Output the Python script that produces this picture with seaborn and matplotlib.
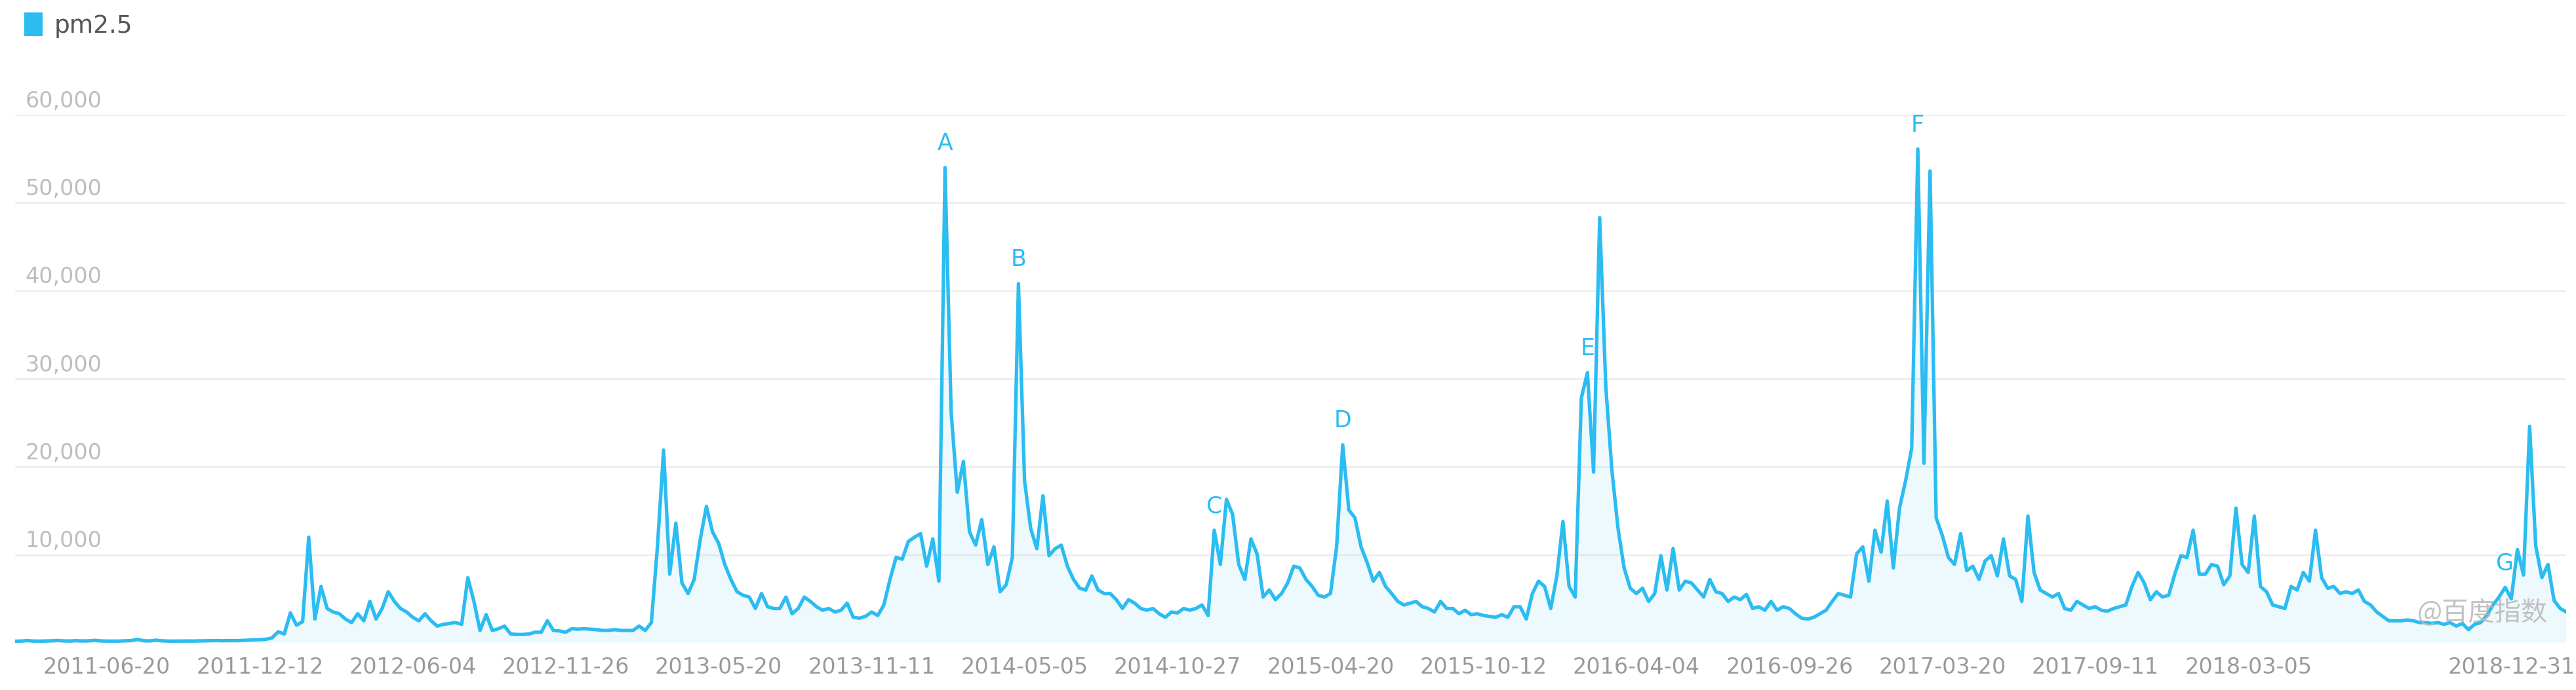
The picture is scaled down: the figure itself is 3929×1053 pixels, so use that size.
import pandas as pd
import matplotlib.pyplot as plt
from matplotlib.patches import Patch
import seaborn as sns

sns.set_style("white")
plt.rcParams['font.family'] = ['DejaVu Sans', 'Noto Sans CJK SC']

# weekly baidu index values for "pm2.5"
start_week = '2011-03-07'
pm25 = [
    180, 200, 260, 200, 190, 210, 230, 270, 220, 200,
    250, 210, 230, 280, 220, 200, 190, 200, 230, 260,
    380, 240, 220, 300, 230, 200, 190, 200, 210, 200,
    220, 230, 250, 260, 240, 260, 250, 270, 300, 330,
    350, 400, 550, 1250, 1000, 3400, 2000, 2400, 12000, 2700,
    6400, 3900, 3500, 3300, 2700, 2300, 3300, 2500, 4700, 2700,
    3900, 5800, 4700, 3900, 3500, 2900, 2500, 3300, 2500, 1900,
    2100, 2200, 2300, 2100, 7400, 4700, 1400, 3200, 1400, 1600,
    1900, 1000, 950, 950, 1000, 1200, 1200, 2500, 1400, 1350,
    1200, 1600, 1550, 1600, 1550, 1500, 1400, 1400, 1500, 1400,
    1400, 1400, 1900, 1400, 2300, 11000, 21900, 7800, 13600, 6800,
    5600, 7200, 11800, 15500, 12600, 11300, 8900, 7200, 5800, 5400,
    5200, 3900, 5600, 4100, 3900, 3900, 5200, 3300, 3900, 5200,
    4700, 4100, 3700, 3900, 3500, 3700, 4500, 2900, 2800, 3000,
    3500, 3100, 4300, 7200, 9700, 9500, 11500, 12000, 12400, 8700,
    11800, 7000, 54000, 26200, 17100, 20600, 12600, 11100, 14000, 8900,
    10900, 5800, 6600, 9700, 40800, 18400, 13000, 10700, 16700, 9900,
    10700, 11100, 8700, 7200, 6200, 6000, 7600, 6000, 5600, 5600,
    4900, 3900, 4900, 4500, 3900, 3700, 3900, 3300, 2900, 3500,
    3400, 3900, 3700, 3900, 4300, 3100, 12800, 8900, 16300, 14600,
    8900, 7200, 11800, 10100, 5200, 6000, 4900, 5600, 6800, 8700,
    8500, 7200, 6400, 5400, 5200, 5600, 10900, 22500, 15100, 14200,
    10900, 9100, 7000, 8000, 6400, 5600, 4700, 4300, 4500, 4700,
    4100, 3900, 3500, 4700, 3900, 3900, 3300, 3700, 3200, 3300,
    3100, 3000, 2900, 3200, 2900, 4100, 4100, 2700, 5600, 7000,
    6400, 3900, 7600, 13800, 6400, 5200, 27800, 30700, 19400, 48300,
    29100, 19600, 13000, 8500, 6200, 5600, 6200, 4700, 5600, 9900,
    6000, 10700, 6000, 7000, 6800, 6000, 5200, 7200, 5800, 5600,
    4700, 5200, 4900, 5500, 3900, 4100, 3700, 4700, 3700, 4100,
    3900, 3300, 2800, 2700, 2900, 3300, 3700, 4700, 5600, 5400,
    5200, 10100, 10900, 7000, 12800, 10300, 16100, 8500, 15300, 18400,
    22100, 56100, 20400, 53600, 14200, 12200, 9700, 8900, 12400, 8200,
    8700, 7200, 9300, 9900, 7600, 11800, 7600, 7200, 4700, 14400,
    8000, 6000, 5600, 5200, 5600, 3900, 3700, 4700, 4300, 3900,
    4100, 3700, 3600, 3900, 4100, 4300, 6400, 8000, 6800, 4900,
    5800, 5200, 5400, 7800, 9900, 9700, 12800, 7800, 7800, 8900,
    8700, 6600, 7600, 15300, 8900, 8000, 14400, 6400, 5800, 4300,
    4100, 3900, 6400, 6000, 8000, 7000, 12800, 7400, 6200, 6400,
    5600, 5800, 5600, 6000, 4700, 4300, 3500, 3000, 2500, 2500,
    2500, 2600, 2500, 2300, 2300, 2200, 2300, 2100, 2300, 1900,
    2200, 1500, 2100, 2300, 3100, 4300, 5200, 6300, 5000, 10600,
    7700, 24600, 11000, 7400, 8900, 4800, 3900, 3500,
]

tick_dates = ['2011-06-20', '2011-12-12', '2012-06-04', '2012-11-26', '2013-05-20',
              '2013-11-11', '2014-05-05', '2014-10-27', '2015-04-20', '2015-10-12',
              '2016-04-04', '2016-09-26', '2017-03-20', '2017-09-11', '2018-03-05',
              '2018-12-31']
y_ticks = [10000, 20000, 30000, 40000, 50000, 60000]

# event markers A..G: week index of the point they sit on
event_labels = ['A', 'B', 'C', 'D', 'E', 'F', 'G']
event_idx = [152, 164, 196, 217, 257, 311, 407]

blue = '#2BBCF2'

df = pd.DataFrame({'week': pd.date_range(start_week, periods=len(pm25), freq='7D'),
                   'pm2.5': pm25})

fig = plt.figure(figsize=(39.29, 10.53), dpi=100)
ax = fig.add_axes([0.00585, 0.0684, 0.9904, 0.7654])

sns.lineplot(data=df, x='week', y='pm2.5', color=blue, linewidth=3.8, ax=ax)
ax.lines[0].set_solid_joinstyle('round')
ax.fill_between(df['week'], df['pm2.5'], color=blue, alpha=0.08, linewidth=0)

ax.set_xlim(df['week'].iloc[0], df['week'].iloc[-1])
ax.set_ylim(0, 60000)

for v in y_ticks:
    ax.axhline(v, color='#EEEEEE', linewidth=2, zorder=0)
    ax.annotate(f'{v:,}', xy=(0, v), xycoords=('axes fraction', 'data'),
                xytext=(11, 3), textcoords='offset points', ha='left', va='bottom',
                fontsize=24, color='#BDBDBD')
ax.set_yticks([])

ax.set_xticks(pd.to_datetime(tick_dates))
ax.set_xticklabels(tick_dates, fontsize=24, color='#9A9A9A')
ax.tick_params(axis='x', length=0, pad=15)
ax.set_xlabel('')
ax.set_ylabel('')
for s in ax.spines.values():
    s.set_visible(False)

for lab, i in zip(event_labels, event_idx):
    ax.annotate(lab, xy=(df['week'].iloc[i], df['pm2.5'].iloc[i]),
                xytext=(0, 14), textcoords='offset points', ha='center', va='bottom',
                fontsize=25, color=blue, annotation_clip=False)

ax.legend(handles=[Patch(facecolor=blue, edgecolor='none', label='pm2.5')],
          loc='upper left', bbox_to_anchor=(0.0095, 0.982), bbox_transform=fig.transFigure,
          frameon=False, fontsize=27, handlelength=0.75, handleheight=1.1,
          handletextpad=0.45, borderaxespad=0, borderpad=0, labelcolor='#555555')

fig.text(0.989, 0.113, '@百度指数', ha='right', va='center', fontsize=29,
         color='#B8B8B8', alpha=0.85, family=['Noto Sans CJK SC', 'DejaVu Sans'])

fig.savefig('out.png', dpi=100, facecolor='white')
